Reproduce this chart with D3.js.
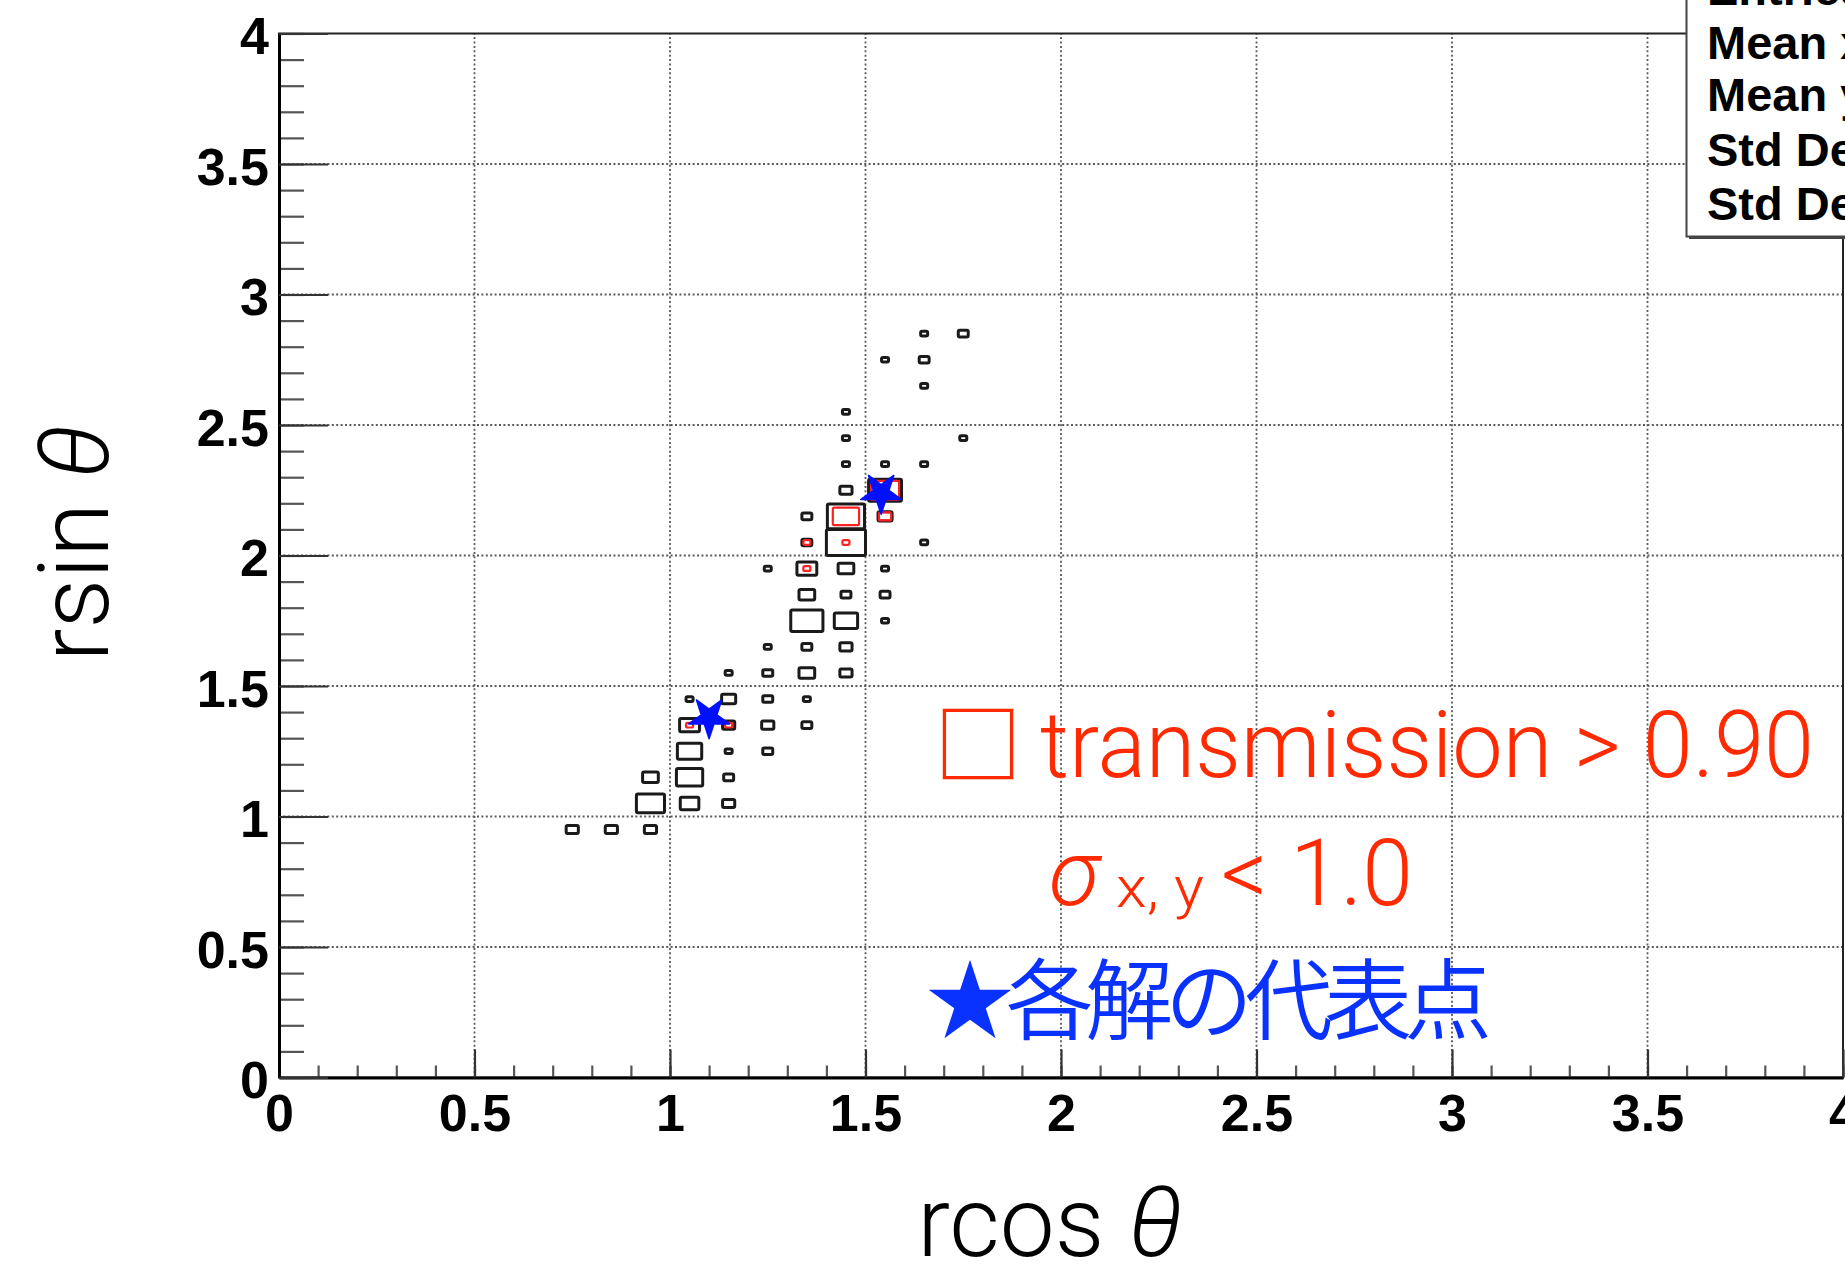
<!DOCTYPE html>
<html><head><meta charset="utf-8">
<script src="https://cdn.jsdelivr.net/npm/d3@7"></script>
<style>body{margin:0;background:#fff}svg{display:block}</style>
</head><body>
<svg id="c" width="1845" height="1269"></svg>
<script>
// ---- data ----
const tickValues = [0, 0.5, 1, 1.5, 2, 2.5, 3, 3.5, 4];
const tickLabels = ["0", "0.5", "1", "1.5", "2", "2.5", "3", "3.5", "4"];
// [x centre, y centre, content]  (all entries)
const blackCells = [
  [0.75,0.95,3],[0.85,0.95,3],[0.95,0.95,3],
  [0.95,1.05,16],[0.95,1.15,5],
  [1.05,1.05,7],[1.05,1.15,14],[1.05,1.25,12],[1.05,1.35,8],[1.05,1.45,1],
  [1.15,1.05,3],[1.15,1.15,2],[1.15,1.25,1],[1.15,1.35,3],[1.15,1.45,4],[1.15,1.55,1],
  [1.25,1.25,2],[1.25,1.35,3],[1.25,1.45,2],[1.25,1.55,2],[1.25,1.65,1],[1.25,1.95,1],
  [1.35,1.35,2],[1.35,1.45,1],[1.35,1.55,5],[1.35,1.65,2],[1.35,1.75,21],[1.35,1.85,5],
  [1.35,1.95,8],[1.35,2.05,2],[1.35,2.15,2],
  [1.45,1.55,3],[1.45,1.65,3],[1.45,1.75,11],[1.45,1.85,2],[1.45,1.95,5],[1.45,2.05,31],
  [1.45,2.15,28],[1.45,2.25,3],[1.45,2.35,1],[1.45,2.45,1],[1.45,2.55,1],
  [1.55,1.75,1],[1.55,1.85,2],[1.55,1.95,1],[1.55,2.15,4],[1.55,2.25,22],[1.55,2.35,1],[1.55,2.75,1],
  [1.65,2.05,1],[1.65,2.35,1],[1.65,2.65,1],[1.65,2.75,2],[1.65,2.85,1],
  [1.75,2.45,1],[1.75,2.85,2]
];
// transmission > 0.90 and sigma_{x,y} < 1.0
const redCells = [
  [1.05,1.35,1],[1.15,1.35,1],[1.35,1.95,1],[1.35,2.05,1],[1.45,2.05,1],
  [1.45,2.15,14],[1.55,2.15,3],[1.55,2.25,16]
];
// representative point of each solution
const starPoints = [[1.10,1.38],[1.54,2.24]];
const statsLabels = ["Entries", "Mean x", "Mean y", "Std Dev x", "Std Dev y"];
const binSize = 0.1;
const maxContent = 31;

// ---- drawing ----
const svg = d3.select("#c");
const x = d3.scaleLinear().domain([0, 4]).range([279, 1843]);
const y = d3.scaleLinear().domain([0, 4]).range([1077.5, 33.5]);
const boxScale = d3.scaleSqrt().domain([0, maxContent]).range([0, 1]);
const bw = x(binSize) - x(0), bh = y(0) - y(binSize);

svg.append("rect").attr("width", 1845).attr("height", 1269).attr("fill", "#fff");

// grid
const grid = svg.append("g").attr("stroke", "#5a5a5a").attr("stroke-width", 1.8).attr("stroke-dasharray", "2,2.4");
tickValues.slice(1, -1).forEach(v => {
  grid.append("line").attr("x1", x(v)).attr("x2", x(v)).attr("y1", y(0)).attr("y2", y(4));
  grid.append("line").attr("y1", y(v)).attr("y2", y(v)).attr("x1", x(0)).attr("x2", x(4));
});

function drawBoxes(cells, color, sw) {
  svg.append("g").selectAll("rect").data(cells).join("rect")
    .attr("x", d => x(d[0]) - bw * boxScale(d[2]) / 2)
    .attr("y", d => y(d[1]) - bh * boxScale(d[2]) / 2)
    .attr("width", d => bw * boxScale(d[2]))
    .attr("height", d => bh * boxScale(d[2]))
    .attr("rx", 1.5)
    .attr("fill", "none").attr("stroke", color).attr("stroke-width", sw)
    .attr("stroke-linejoin", "round");
}
drawBoxes(blackCells, "#1a1a1a", 3);
drawBoxes(redCells, "#ff2020", 2.2);

// stars (inverted, as in the picture)
const star = d3.symbol(d3.symbolStar, 21.5 * 21.5 / 0.8908130915292852);
svg.append("g").selectAll("path").data(starPoints).join("path")
  .attr("d", star)
  .attr("transform", d => `translate(${x(d[0])},${y(d[1])}) rotate(180)`)
  .attr("fill", "#0010ff").attr("stroke", "#0010ff").attr("stroke-width", 1.5)
  .attr("stroke-linejoin", "round");

// frame
svg.append("rect").attr("x", x(0)).attr("y", y(4)).attr("width", x(4) - x(0)).attr("height", y(0) - y(4))
  .attr("fill", "none").attr("stroke", "#222").attr("stroke-width", 2);

const labelFont = g => g.selectAll("text")
  .attr("font-family", "'Liberation Sans', Arial, Helvetica, sans-serif")
  .attr("font-weight", "bold").attr("font-size", 52).attr("fill", "#000");

// x axis
const gxMinor = svg.append("g").attr("transform", `translate(0,${y(0)})`)
  .call(d3.axisBottom(x).ticks(40).tickSize(-12).tickSizeOuter(0).tickFormat(""));
gxMinor.selectAll(".tick line").attr("stroke", "#555").attr("stroke-width", 2.2);
gxMinor.select(".domain").remove();
const gx = svg.append("g").attr("transform", `translate(0,${y(0)})`)
  .call(d3.axisBottom(x).tickValues(tickValues).tickSize(-28).tickSizeOuter(0).tickPadding(17)
    .tickFormat((d, i) => tickLabels[i]));
gx.selectAll(".tick line").attr("stroke", "#333").attr("stroke-width", 2.2);
gx.select(".domain").attr("stroke", "#000").attr("stroke-width", 3);
gx.call(labelFont);

// y axis
const gyMinor = svg.append("g").attr("transform", `translate(${x(0)},0)`)
  .call(d3.axisLeft(y).ticks(40).tickSize(-25).tickSizeOuter(0).tickFormat(""));
gyMinor.selectAll(".tick line").attr("stroke", "#555").attr("stroke-width", 2.2);
gyMinor.select(".domain").remove();
const gy = svg.append("g").attr("transform", `translate(${x(0)},0)`)
  .call(d3.axisLeft(y).tickValues(tickValues).tickSize(-49).tickSizeOuter(0).tickPadding(10)
    .tickFormat((d, i) => tickLabels[i]));
gy.selectAll(".tick line").attr("stroke", "#333").attr("stroke-width", 2.2);
gy.select(".domain").attr("stroke", "#000").attr("stroke-width", 3);
gy.call(labelFont);
gy.selectAll("text").attr("dy", "0.39em");

// axis titles
const titleFont = "Roboto, 'Liberation Sans', Arial, sans-serif";
const xt = svg.append("text").attr("x", 1050).attr("y", 1256).attr("text-anchor", "middle")
  .attr("font-family", titleFont).attr("font-weight", 300).attr("font-size", 98).attr("fill", "#000");
xt.append("tspan").text("rcos ");
xt.append("tspan").attr("font-style", "italic").text("θ");
const yt = svg.append("text").attr("transform", "translate(108,543) rotate(-90)").attr("text-anchor", "middle")
  .attr("font-family", titleFont).attr("font-weight", 300).attr("font-size", 98).attr("fill", "#000");
yt.append("tspan").text("rsin ");
yt.append("tspan").attr("font-style", "italic").text("θ");

// stats box
svg.append("rect").attr("x", 1689).attr("y", -10).attr("width", 200).attr("height", 249).attr("fill", "#444");
svg.append("rect").attr("x", 1686.5).attr("y", -10).attr("width", 200).attr("height", 246.5)
  .attr("fill", "#fff").attr("stroke", "#444").attr("stroke-width", 2);
const statsBase = [5, 59, 111, 166, 220];
svg.append("g").selectAll("text").data(statsLabels).join("text")
  .attr("x", 1707).attr("y", (d, i) => statsBase[i])
  .attr("font-family", "'Liberation Sans', Arial, Helvetica, sans-serif")
  .attr("font-weight", "bold").attr("font-size", 47).attr("fill", "#000").text(d => d);

// annotations
const red = "#ff2a00", blue = "#0a32ff";
const t1 = svg.append("text").attr("y", 777).attr("fill", red).attr("font-size", 92)
  .attr("font-family", titleFont).attr("font-weight", 300);
t1.append("tspan").attr("x", 934).attr("font-size", 88).attr("font-weight", 400)
  .attr("font-family", "'Noto Sans CJK JP', sans-serif").text("□");
t1.append("tspan").attr("x", 1040).attr("textLength", 774).attr("lengthAdjust", "spacingAndGlyphs")
  .text("transmission > 0.90");

const t2 = svg.append("text").attr("y", 905).attr("fill", red).attr("font-size", 92)
  .attr("font-family", titleFont).attr("font-weight", 300);
t2.append("tspan").attr("x", 1049).attr("font-style", "italic").text("σ");
t2.append("tspan").attr("x", 1116).attr("dy", 2).attr("font-size", 58).attr("textLength", 88)
  .attr("lengthAdjust", "spacingAndGlyphs").text("x, y");
t2.append("tspan").attr("x", 1221).attr("dy", -2).attr("textLength", 192).attr("lengthAdjust", "spacingAndGlyphs")
  .text("< 1.0");

svg.append("text").attr("x", 926).attr("y", 1032).attr("fill", blue).attr("font-size", 88)
  .attr("font-weight", 350)
  .attr("textLength", 566).attr("lengthAdjust", "spacing")
  .attr("font-family", "'Noto Sans CJK JP', sans-serif").text("★各解の代表点");
</script>
</body></html>
